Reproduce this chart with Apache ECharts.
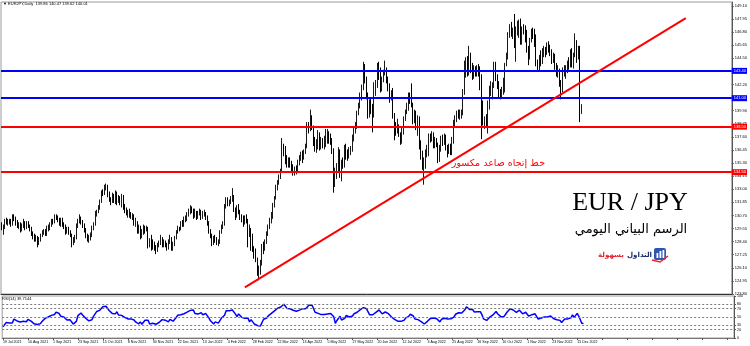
<!DOCTYPE html>
<html><head><meta charset="utf-8">
<script src="https://cdn.jsdelivr.net/npm/echarts@6/dist/echarts.min.js"></script>
<style>html,body{margin:0;padding:0;background:#fff}#c{width:750px;height:346px}</style>
</head><body><div id="c"></div>
<script>
// closes before the first visible bar (used only to seed RSI and the first open)
const priorCloses = [131.8,131.9,131.8,132.1,131.7,131.6,130.9,130.7,130.0,130.5,130.8,130.2,130.3,129.9,129.9];
// daily closes from 19 Jul 2021 to 21 Dec 2022
const closes = [
129.6,129.7,130.2,130.1,130.1, 130.2,130.0,130.6,130.5,130.2, 129.8,129.9,129.4,129.8,130.0, 129.6,130.0,129.8,129.6,129.2,
128.9,128.7,128.7,128.3,128.6, 128.9,129.2,129.4,129.1,129.6, 129.6,129.9,130.2,130.1,130.6, 130.5,130.4,130.0,130.3,129.9,
129.7,129.3,129.5,129.3,129.1, 128.3,128.6,128.7,129.8,130.2, 130.5,130.1,129.9,129.4,128.9, 128.7,128.8,128.9,129.6,129.9,
130.9,131.0,131.3,131.9,132.8, 132.7,133.2,133.3,132.5,132.1, 131.9,132.5,132.0,132.7,131.9, 132.3,131.9,132.4,131.4,131.2,
130.9,130.9,130.9,130.6,130.6, 130.0,130.1,129.3,129.7,128.8, 129.2,129.7,129.4,129.6,128.2, 128.4,128.3,128.1,127.9,127.6,
128.1,128.3,128.7,128.1,128.4, 128.1,127.9,128.4,128.7,127.8, 128.1,128.7,129.3,129.6,129.5, 130.1,129.9,130.4,130.4,130.9,
131.0,131.3,131.2,130.6,131.0, 130.6,130.9,131.0,130.6,130.9, 130.9,130.6,130.0,129.3,128.9, 128.3,128.7,128.6,128.3,128.3,
129.3,129.7,130.0,131.5,132.1, 131.8,131.9,132.1,132.3,131.3, 130.6,131.5,131.0,130.5,130.3, 130.2,130.4,130.3,129.0,129.6,
128.9,127.8,127.3,126.9,125.6, 126.0,126.4,128.0,127.8,128.4, 129.2,129.7,130.3,130.6,131.6, 132.2,133.2,133.6,134.1,134.6,
136.6,136.5,135.4,135.3,135.3, 135.2,134.9,134.5,134.7,134.6, 135.3,135.7,136.0,135.7,136.3, 136.7,138.6,138.3,139.3,138.5,
137.3,136.6,137.0,137.7,136.8, 137.2,136.9,137.1,137.2,137.7, 137.5,137.3,136.5,133.4,134.5, 134.8,136.4,134.3,135.3,135.1,
136.7,136.2,135.9,136.4,136.4, 137.6,138.1,138.5,139.7,140.3, 141.1,141.9,143.8,142.7,141.3, 139.9,140.3,140.0,139.4,141.8,
142.1,143.8,143.6,141.9,142.6, 143.3,143.5,142.6,142.2,140.9, 141.5,139.5,138.3,138.2,138.6, 137.9,137.5,138.2,139.2,139.8,
140.1,141.3,140.8,140.5,139.0, 139.7,138.5,139.3,137.0,136.2, 135.0,135.1,136.2,136.4,137.6, 137.5,137.8,136.9,137.3,137.0,
135.5,136.6,137.5,137.1,137.6, 136.7,136.3,136.7,136.2,137.3, 138.8,139.1,139.7,139.5,139.6, 139.6,141.5,144.0,144.2,143.2,
144.5,143.9,142.9,143.4,143.2, 143.5,143.3,142.1,140.1,138.9, 139.1,138.8,140.6,141.7,141.8, 142.1,144.0,143.0,142.1,141.5,
141.4,141.5,142.6,144.0,144.5, 146.7,147.4,146.6,146.9,145.8, 146.9,147.4,147.5,145.9,147.1, 147.0,146.5,145.2,144.6,146.1,
146.8,146.7,146.5,144.0,143.7, 144.5,144.2,145.0,145.2,145.0, 145.5,145.4,145.2,144.3,144.8, 143.8,143.3,143.4,142.3,141.7,
143.4,143.4,143.4,144.0,143.8, 145.0,144.0,144.8,145.9,144.8, 145.3,139.86,140.01];
const highs = [
130.1,129.9,130.4,130.5,130.4, 130.4,130.4,130.8,130.8,130.6, 130.3,130.1,130.1,130.0,130.4, 130.2,130.2,130.2,129.9,129.7,
129.3,129.1,129.0,128.9,128.8, 129.1,129.4,129.5,129.5,129.8, 129.9,130.1,130.4,130.4,130.8, 130.8,130.7,130.5,130.5,130.5,
130.1,129.9,129.7,129.7,129.4, 129.1,128.8,129.0,130.0,130.4, 130.8,130.6,130.3,130.0,129.6, 129.1,129.0,129.2,129.8,130.1,
131.1,131.2,131.6,132.1,132.9, 133.0,133.4,133.5,133.4,132.8, 132.3,132.7,132.6,132.9,132.8, 132.5,132.4,132.6,132.5,131.7,
131.4,131.2,131.3,131.0,130.9, 130.8,130.5,130.2,129.9,129.8, 129.5,129.9,129.8,129.8,129.7, 128.7,129.0,128.6,128.4,128.1,
128.3,128.5,129.0,128.8,128.6, 128.5,128.3,128.6,129.0,128.8, 128.4,128.9,129.4,129.8,129.7, 130.2,130.3,130.6,130.7,131.0,
131.3,131.6,131.5,131.3,131.3, 131.1,131.1,131.3,131.2,131.1, 131.2,131.0,130.7,130.2,129.5, 129.1,128.9,129.0,128.8,128.6,
129.4,129.9,130.2,131.7,132.3, 132.3,132.1,132.4,133.1,132.5, 131.4,131.6,131.7,131.2,130.8, 130.7,130.7,130.8,130.4,129.9,
129.6,129.1,128.0,127.8,127.0, 126.3,126.8,128.2,128.4,128.6, 129.3,129.9,130.5,131.0,131.8, 132.4,133.4,133.8,134.3,134.8,
137.5,137.0,136.8,136.0,135.8, 135.8,135.5,135.2,135.0,135.1, 135.6,136.0,136.3,136.4,136.5, 137.0,138.9,138.9,140.0,139.5,
138.6,137.6,137.4,138.2,138.0, 137.6,137.5,137.7,138.3,138.3, 138.1,137.9,137.5,136.6,134.9, 135.3,136.7,136.5,135.6,135.8,
136.9,137.0,136.5,136.7,136.8, 137.8,138.4,138.9,139.9,140.6, 141.5,142.2,144.2,144.0,142.9, 141.5,140.9,141.1,140.5,142.4,
142.6,144.1,144.2,143.7,142.9, 143.5,144.3,143.7,142.9,142.3, 141.7,141.9,139.7,138.9,139.2, 138.7,138.0,138.4,139.4,140.0,
140.6,141.5,141.5,142.3,140.6, 140.0,139.9,139.5,139.4,137.3, 136.4,135.8,136.5,136.9,137.9, 137.9,138.1,138.0,137.6,137.5,
137.1,136.9,137.7,137.8,137.9, 137.8,136.9,137.0,137.0,137.6, 139.1,139.5,139.9,140.0,140.0, 140.0,141.8,144.3,144.6,144.7,
145.6,145.0,144.1,143.9,143.8, 143.9,144.0,143.8,143.1,140.8, 139.4,139.6,140.8,142.1,142.5, 142.4,144.2,144.2,143.1,142.5,
141.8,142.0,142.8,144.1,145.0, 146.8,147.5,147.7,147.2,148.4, 147.3,147.8,147.9,148.0,147.3, 147.5,147.4,147.0,145.6,146.3,
147.1,147.2,147.1,146.6,144.4, 144.8,145.2,145.4,145.6,145.5, 145.9,146.0,145.7,145.3,145.0, 144.9,144.1,143.9,143.6,142.6,
143.7,143.9,143.9,144.3,144.6, 145.3,145.4,145.0,146.7,146.1, 145.6,145.6,140.47];
const lows = [
129.4,129.0,129.5,129.9,129.8, 129.9,129.7,129.8,130.2,129.8, 129.6,129.5,129.2,129.3,129.6, 129.4,129.5,129.6,129.3,128.9,
128.6,128.4,128.4,127.9,128.1, 128.4,128.8,129.0,128.9,128.9, 129.3,129.4,129.7,129.9,130.0, 130.3,130.1,129.8,129.7,129.7,
129.5,129.0,129.1,129.0,128.8, 127.9,128.1,128.3,128.6,129.6, 130.0,129.9,129.6,129.2,128.7, 128.4,128.3,128.5,128.8,129.4,
129.8,130.6,130.9,131.2,131.8, 132.4,132.5,132.9,132.3,131.9, 131.6,131.8,131.8,131.7,131.6, 131.8,131.6,131.4,131.2,130.9,
130.7,130.5,130.5,130.4,130.3, 129.8,129.7,129.1,129.1,128.6, 128.7,129.0,129.1,129.3,127.8, 127.9,127.6,127.7,127.6,127.3,
127.5,127.9,128.1,127.9,127.9, 127.9,127.6,127.7,128.2,127.6, 127.6,128.0,128.6,129.1,129.3, 129.4,129.7,129.7,130.1,130.2,
130.6,130.8,130.9,130.4,130.5, 130.3,130.4,130.7,130.3,130.4, 130.6,130.3,129.8,129.1,128.7, 128.0,128.1,128.3,128.1,128.0,
128.2,129.1,129.5,129.8,131.3, 131.5,131.5,131.7,131.9,131.0, 130.3,130.5,130.8,130.3,130.1, 129.7,129.9,130.0,127.9,128.8,
127.6,127.5,126.9,126.6,125.4, 125.0,125.5,126.3,127.3,127.6, 128.2,128.9,129.5,130.0,130.4, 131.4,132.1,132.9,133.4,133.9,
134.5,135.9,135.2,134.9,134.9, 134.9,134.5,134.2,134.2,134.3, 134.5,135.1,135.5,135.3,135.6, 136.1,136.6,137.9,138.1,138.2,
136.8,136.3,136.2,136.5,136.4, 136.5,136.6,136.5,136.7,137.0, 137.0,136.9,136.1,132.7,133.2, 133.9,134.6,134.0,133.7,134.8,
134.9,135.6,135.5,135.7,136.0, 136.3,137.2,137.9,138.3,139.5, 140.1,140.8,141.7,142.3,140.9, 139.2,139.3,139.6,138.0,139.3,
141.2,141.9,142.6,141.5,141.6, 142.4,143.0,142.3,141.6,140.6, 140.8,139.2,137.3,137.7,137.9, 137.6,136.9,137.0,137.8,139.0,
139.6,139.9,140.5,140.2,138.7, 138.8,138.2,137.7,136.5,135.6, 134.7,133.4,134.8,135.8,135.9, 137.1,137.2,136.6,136.6,136.7,
135.3,135.4,136.3,136.8,136.9, 136.4,135.8,136.1,136.0,136.0, 137.0,138.5,138.9,139.2,139.1, 139.2,139.5,141.3,142.8,142.9,
143.0,143.2,142.6,142.7,142.9, 142.9,142.9,141.7,137.4,138.6, 138.3,138.4,137.9,140.0,141.2, 140.9,141.9,142.5,141.8,141.0,
140.9,141.0,141.3,141.5,143.8, 144.4,146.3,146.4,146.2,145.4, 144.2,146.5,146.3,145.7,145.7, 146.6,145.9,145.0,143.9,144.4,
145.9,146.2,145.5,143.8,143.4, 143.4,143.8,144.0,144.6,144.6, 144.8,145.0,144.7,144.0,144.1, 143.5,142.9,142.8,142.0,140.9,
141.5,142.9,142.7,143.2,143.5, 143.7,143.7,143.6,144.6,144.1, 144.4,138.9,139.62];

const xTickLabels = ['19 Jul 2021','10 Aug 2021','1 Sep 2021','23 Sep 2021','15 Oct 2021','8 Nov 2021','30 Nov 2021','22 Dec 2021',
 '13 Jan 2022','4 Feb 2022','28 Feb 2022','22 Mar 2022','13 Apr 2022','5 May 2022','27 May 2022','20 Jun 2022','12 Jul 2022',
 '3 Aug 2022','25 Aug 2022','16 Sep 2022','10 Oct 2022','1 Nov 2022','23 Nov 2022','15 Dec 2022'];
const yTickLabels = [149.10,147.95,146.80,145.65,144.50,143.35,142.20,141.05,139.90,138.75,137.60,136.45,135.30,134.15,133.00,
 131.85,130.70,129.55,128.40,127.25,126.10,124.95,123.80];
const rsiTicks = [0,20,30,50,70,80,100];
const rsiLevels = [20,30,50,70,80];
const blueLevels = [143.40,141.00];
const redLevels = [138.50,134.50];
const currentPrice = 140.01;
const trendFrom = [156,124.39];
const trendTo = [439,148.04];
const headerText = '\u25BC EURJPY,Daily  139.86 140.47 139.62 140.01';
const rsiText = 'RSI(14) 39.7144';
const logoWordA = 'التداول';
const logoWordB = 'بسهولة';

// ---- build ----
const TOTAL_SLOTS = 469; // bars plus empty right margin of the chart
const cats = [];
for (let i = 0; i < TOTAL_SLOTS; i++) cats.push(String(i));
const ohlc = closes.map((c, i) => {
  const o = i === 0 ? priorCloses[priorCloses.length - 1] : closes[i - 1];
  return [o, c, lows[i], highs[i]];
});
// RSI(14), Wilder smoothing
const all = priorCloses.concat(closes);
let ag = 0, al = 0;
for (let i = 1; i <= 14; i++) { const d = all[i] - all[i - 1]; if (d > 0) ag += d; else al -= d; }
ag /= 14; al /= 14;
const rsi = [];
for (let i = priorCloses.length; i < all.length; i++) {
  const d = all[i] - all[i - 1];
  ag = (ag * 13 + (d > 0 ? d : 0)) / 14;
  al = (al * 13 + (d < 0 ? -d : 0)) / 14;
  rsi.push(+(al === 0 ? 100 : 100 - 100 / (1 + ag / al)).toFixed(2));
}

// logo word layout (measure so the two words never overlap)
const mctx = document.createElement('canvas').getContext('2d');
mctx.font = 'bold 10px DejaVu Sans';
const wA10 = mctx.measureText(logoWordA).width, wB10 = mctx.measureText(logoWordB).width;
const logoFs = Math.min(9, 10 * 51 / (wA10 + wB10));
const wA = wA10 * logoFs / 10;
const logoRight = 652;

const F = 'Liberation Sans, Arial, sans-serif';
function lvl(v, color, lineOpacity) {
  return {
    yAxis: v,
    lineStyle: { color: color, width: 2, type: 'solid', opacity: lineOpacity },
    label: { show: true, position: 'end', formatter: v.toFixed(2), backgroundColor: color, color: '#fff',
      fontSize: 4, fontFamily: F, padding: [1, 1, 1, 2], distance: 0 }
  };
}
const levelData = [];
blueLevels.forEach(v => levelData.push(lvl(v, '#0000ff', 1)));
redLevels.forEach(v => levelData.push(lvl(v, '#ff0000', 1)));
levelData.push(lvl(currentPrice, '#000000', 0));
levelData.push([{ coord: trendFrom }, { coord: trendTo, lineStyle: { color: '#ff0000', width: 2, type: 'solid' }, label: { show: false } }]);

const chart = echarts.init(document.getElementById('c'), null, { renderer: 'canvas' });
chart.setOption({
  animation: false,
  backgroundColor: '#ffffff',
  grid: [
    { left: 1, right: 16, top: 2, height: 292, show: true, borderColor: '#9a9a9a', borderWidth: 1, backgroundColor: 'transparent' },
    { left: 1, right: 16, top: 296, height: 42, show: true, borderColor: '#9a9a9a', borderWidth: 1, backgroundColor: 'transparent' }
  ],
  xAxis: [
    { type: 'category', gridIndex: 0, data: cats, boundaryGap: true,
      axisLine: { show: true, lineStyle: { color: '#333', width: 1 } }, axisTick: { show: false }, axisLabel: { show: false }, splitLine: { show: false } },
    { type: 'category', gridIndex: 1, data: cats, boundaryGap: true,
      axisLine: { show: true, lineStyle: { color: '#777', width: 1 } },
      axisTick: { show: true, interval: 15, alignWithLabel: true, length: 2, lineStyle: { color: '#555' } },
      axisLabel: { show: true, interval: 15, align: 'left', margin: 2, fontSize: 3.6, fontFamily: F, color: '#000',
        formatter: (v, idx) => (idx % 16 === 0 && xTickLabels[idx / 16]) ? xTickLabels[idx / 16] : '' },
      splitLine: { show: false } }
  ],
  yAxis: [
    { type: 'value', gridIndex: 0, position: 'right', min: 123.8, max: 149.45, scale: true,
      axisLine: { show: true, lineStyle: { color: '#555', width: 1 } },
      axisTick: { show: true, customValues: yTickLabels, length: 2, lineStyle: { color: '#555' } },
      axisLabel: { show: true, customValues: yTickLabels, formatter: v => v.toFixed(2), fontSize: 4, fontFamily: F, color: '#000', margin: 3 },
      splitLine: { show: false } },
    { type: 'value', gridIndex: 1, position: 'right', min: 0, max: 100,
      axisLine: { show: true, lineStyle: { color: '#555', width: 1 } },
      axisTick: { show: true, customValues: rsiTicks, length: 2, lineStyle: { color: '#555' } },
      axisLabel: { show: true, customValues: rsiTicks, fontSize: 3.6, fontFamily: F, color: '#000', margin: 3 },
      splitLine: { show: false } }
  ],
  series: [
    { type: 'candlestick', xAxisIndex: 0, yAxisIndex: 0, data: ohlc, barWidth: 1,
      itemStyle: { color: '#ffffff', color0: '#000000', borderColor: '#1a1a1a', borderColor0: '#000000', borderWidth: 1 },
      markLine: { symbol: 'none', silent: true, animation: false, precision: 2, data: levelData } },
    { type: 'line', xAxisIndex: 1, yAxisIndex: 1, data: rsi, symbol: 'none', showSymbol: false,
      lineStyle: { color: '#0000ff', width: 1.5 },
      markLine: { symbol: 'none', silent: true, animation: false,
        lineStyle: { color: '#7a7a7a', width: 1, type: [2, 2] }, label: { show: false },
        data: rsiLevels.map(v => ({ yAxis: v })) } }
  ],
  graphic: [
    { type: 'text', left: 3, top: 2, style: { text: headerText, fontSize: 4, fontFamily: F, fill: '#000' } },
    { type: 'text', left: 2, top: 297, style: { text: rsiText, fontSize: 4, fontFamily: F, fill: '#000' } },
    { type: 'text', x: 545, y: 164, style: { text: 'خط إتجاه صاعد مكسور', fontSize: 9.5, fontFamily: 'DejaVu Sans', fill: '#ff0000', align: 'right', verticalAlign: 'middle' } },
    { type: 'text', x: 630, y: 203, style: { text: 'EUR / JPY', fontSize: 26, fontFamily: 'Liberation Serif, Times New Roman, serif', fill: '#000', align: 'center', verticalAlign: 'middle' } },
    { type: 'text', x: 631, y: 230, style: { text: 'الرسم البياني اليومي', fontSize: 13, fontFamily: 'DejaVu Serif, DejaVu Sans', fill: '#000', align: 'center', verticalAlign: 'middle' } },
    { type: 'text', x: logoRight, y: 255, style: { text: logoWordA, fontSize: logoFs, fontWeight: 'bold', fontFamily: 'DejaVu Sans', fill: '#1f2f6e', align: 'right', verticalAlign: 'middle' } },
    { type: 'text', x: logoRight - wA - 3, y: 255, style: { text: logoWordB, fontSize: logoFs, fontWeight: 'bold', fontFamily: 'DejaVu Sans', fill: '#e3262f', align: 'right', verticalAlign: 'middle' } },
    { type: 'rect', shape: { x: 654, y: 248, width: 12, height: 12, r: 2 }, style: { fill: '#2d56b3' } },
    { type: 'rect', shape: { x: 656.5, y: 253, width: 1.8, height: 5 }, style: { fill: '#fff' } },
    { type: 'rect', shape: { x: 659.5, y: 251, width: 1.8, height: 7 }, style: { fill: '#fff' } },
    { type: 'rect', shape: { x: 662.5, y: 250, width: 1.8, height: 8 }, style: { fill: '#fff' } },
    { type: 'polyline', shape: { points: [[652, 260], [660, 262], [668, 256]] }, style: { stroke: '#e3262f', lineWidth: 1.5, fill: 'none' } }
  ]
});
</script>
</body></html>
